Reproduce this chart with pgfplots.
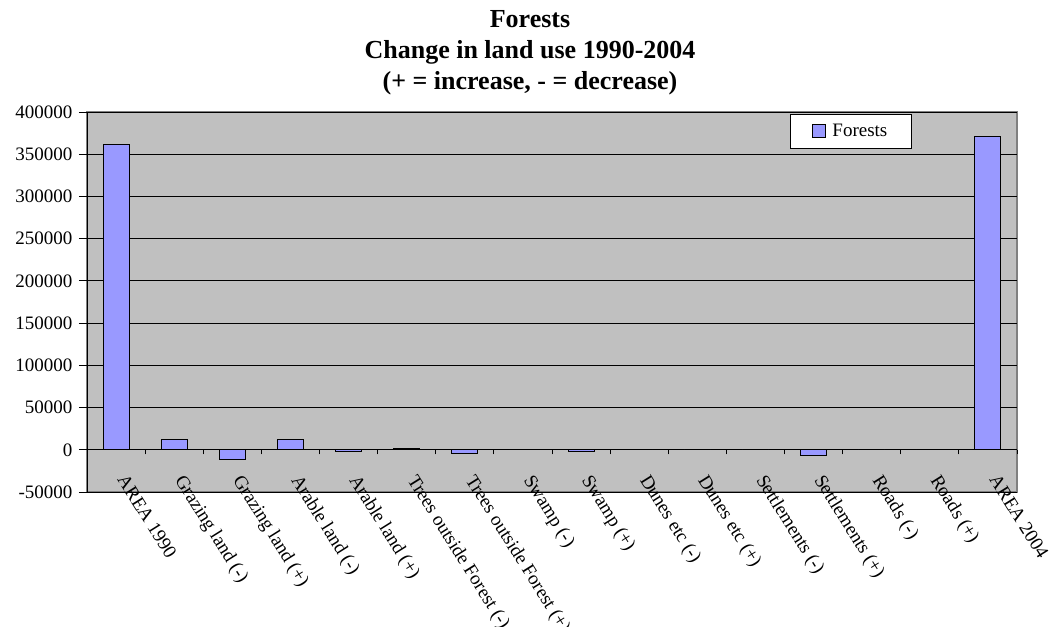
\documentclass[border=0pt]{standalone}
\usepackage{pgfplots}
\pgfplotsset{compat=1.18}
\usepackage{fontspec}
\setmainfont{Liberation Serif}
\definecolor{barblue}{HTML}{9999FF}
\definecolor{plotgray}{HTML}{C0C0C0}
\definecolor{bordergray}{HTML}{808080}
\begin{document}
\begin{tikzpicture}[font=\fontsize{19bp}{23bp}\selectfont]
\useasboundingbox (0,0) rectangle (1054bp,627bp);
\node[anchor=north, align=center, inner sep=0pt, font=\fontsize{26bp}{31bp}\selectfont\bfseries] at (530bp,617bp) {Forests\\Change in land use 1990-2004\\(+ = increase, - = decrease)};
\begin{axis}[
  at={(87bp,135bp)}, anchor=south west,
  scale only axis, width=930bp, height=380bp,
  xmin=-0.5, xmax=15.5, ymin=-50000, ymax=400000,
  enlargelimits=false,
  axis x line*=middle, axis y line*=left,
  axis line style={black, line width=1bp},
  axis background/.style={fill=plotgray, draw=bordergray, line width=1.5bp},
  scaled y ticks=false,
  ytick={-50000,0,50000,100000,150000,200000,250000,300000,350000,400000},
  yticklabels={-50000,0,50000,100000,150000,200000,250000,300000,350000,400000},
  yticklabel style={xshift=-3bp},
  ymajorgrids, major grid style={black, line width=0.8bp},
  tick align=outside,
  major tick length=8bp, minor tick length=4.5bp,
  ytick style={black, line width=0.8bp},
  major x tick style={draw=none},
  minor x tick style={black, line width=0.8bp},
  xtick={0.2,1.2,2.2,3.2,4.2,5.2,6.2,7.2,8.2,9.2,10.2,11.2,12.2,13.2,14.2,15.2},
  xticklabels={AREA 1990, Grazing land (-), Grazing land (+), Arable land (-), Arable land (+), Trees outside Forest (-), Trees outside Forest (+), Swamp (-), Swamp (+), Dunes etc (-), Dunes etc (+), Settlements (-), Settlements (+), Roads (-), Roads (+), AREA 2004},
  minor xtick={-0.5,0.5,1.5,2.5,3.5,4.5,5.5,6.5,7.5,8.5,9.5,10.5,11.5,12.5,13.5,14.5,15.5},
  xticklabel style={rotate=-58, anchor=north west, inner sep=0pt},
  xticklabel shift=15bp,
  legend style={at={(0.756,0.995)}, anchor=north west, draw=black, fill=white, line width=0.8bp, inner xsep=22bp, inner ysep=8bp},
]
\addplot[ybar, bar width=26bp, fill=barblue, draw=black, line width=1bp,
  legend image code/.code={\draw[fill=barblue, draw=black, line width=1bp] (0bp,-6.5bp) rectangle (13bp,6.5bp); \path (17bp,0bp);}]
  coordinates {(0,362000) (1,12000) (2,-12000) (3,12300) (4,-1500) (5,1500) (6,-4000) (7,0) (8,-1500) (9,0) (10,0) (11,0) (12,-6300) (13,0) (14,0) (15,370500)};
\addlegendentry{Forests}
\end{axis}
\end{tikzpicture}
\end{document}
